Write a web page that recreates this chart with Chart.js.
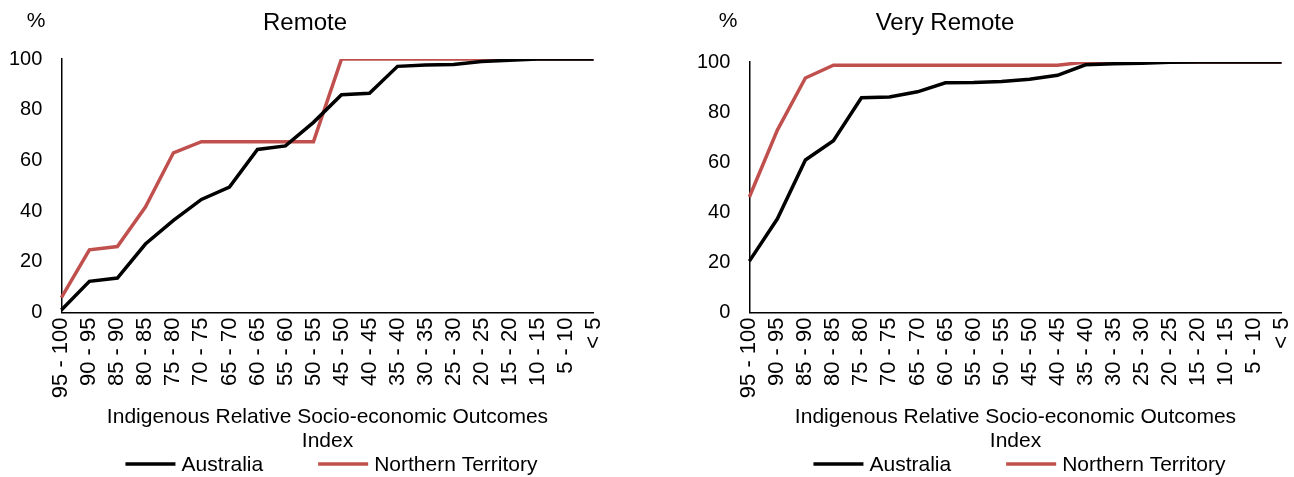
<!DOCTYPE html>
<html>
<head>
<meta charset="utf-8">
<script src="https://cdn.jsdelivr.net/npm/chart.js@4.4.0/dist/chart.umd.min.js"></script>
<style>
  html, body { margin: 0; background: #fff; overflow: hidden; }
  #wrap { position: relative; width: 1294px; height: 477px; overflow: hidden; }
  canvas { position: absolute; top: 0; }
  #remoteChart { left: 0; }
  #veryRemoteChart { left: 688px; }
</style>
</head>
<body>
<div id="wrap">
  <canvas id="remoteChart" width="625" height="477"></canvas>
  <canvas id="veryRemoteChart" width="625" height="477"></canvas>
</div>
<script>
// categories (IRSEO index bands)
var categories = ['95 - 100', '90 - 95', '85 - 90', '80 - 85', '75 - 80', '70 - 75', '65 - 70',
  '60 - 65', '55 - 60', '50 - 55', '45 - 50', '40 - 45', '35 - 40', '30 - 35', '25 - 30',
  '20 - 25', '15 - 20', '10 - 15', '5 - 10', '< 5'];

// cumulative % - Remote
var remoteAustralia = [1, 12.3, 13.6, 27, 36.3, 44.6, 49.5, 64.3, 65.7, 75,
  85.9, 86.5, 97.1, 97.6, 97.8, 99, 99.5, 100, 100, 100];
var remoteNT = [5.9, 24.7, 26, 41.6, 63, 67.4, 67.4, 67.4, 67.4, 67.4,
  100, 100, 100, 100, 100, 100, 100, 100, 100, 100];

// cumulative % - Very Remote
var veryRemoteAustralia = [20.5, 37.4, 60.9, 68.6, 85.7, 86, 88.1, 91.7, 91.8, 92.2,
  93.1, 94.7, 98.9, 99.3, 99.5, 99.9, 100, 100, 100, 100];
var veryRemoteNT = [46.1, 72.8, 93.6, 98.7, 98.7, 98.7, 98.7, 98.7, 98.7, 98.7,
  98.7, 98.7, 100, 100, 100, 100, 100, 100, 100, 100];

var yTicks = [0, 20, 40, 60, 80, 100];
var seriesNames = ['Australia', 'Northern Territory'];
var seriesColors = ['#000000', '#C0504D'];

var FONT = '"Liberation Sans", Arial, sans-serif';
Chart.defaults.font.family = FONT;
Chart.defaults.color = '#000';

// title + "%" unit label drawn above the plot
var headText = {
  id: 'headText',
  afterDraw: function (chart, args, opts) {
    var ctx = chart.ctx;
    ctx.save();
    ctx.fillStyle = '#000';
    ctx.textAlign = 'center';
    ctx.textBaseline = 'alphabetic';
    ctx.font = '24px ' + FONT;
    ctx.fillText(opts.title, opts.titleX, 30);
    ctx.font = '21px ' + FONT;
    ctx.fillText('%', opts.unitX, 27);
    ctx.restore();
  }
};

// legend row under the axis title (Excel style: wide gap between entries)
var bottomLegend = {
  id: 'bottomLegend',
  afterDraw: function (chart, args, opts) {
    var ctx = chart.ctx;
    var sets = chart.data.datasets;
    ctx.save();
    ctx.font = opts.fontSize + 'px ' + FONT;
    var widths = sets.map(function (d) {
      return opts.lineLength + opts.textGap + ctx.measureText(d.label).width;
    });
    var total = widths.reduce(function (a, b) { return a + b; }, 0) + opts.itemGap * (sets.length - 1);
    var x = (chart.chartArea.left + chart.chartArea.right) / 2 - total / 2 + opts.shift;
    var y = chart.height - opts.bottom;
    ctx.textAlign = 'left';
    ctx.textBaseline = 'middle';
    sets.forEach(function (d, i) {
      ctx.strokeStyle = d.borderColor;
      ctx.lineWidth = d.borderWidth;
      ctx.beginPath();
      ctx.moveTo(x, y);
      ctx.lineTo(x + opts.lineLength, y);
      ctx.stroke();
      ctx.fillStyle = '#000';
      ctx.fillText(d.label, x + opts.lineLength + opts.textGap, y + 1);
      x += widths[i] + opts.itemGap;
    });
    ctx.restore();
  }
};

function makeChart(id, title, titleX, unitX, top, australia, nt) {
  var ctx = document.getElementById(id).getContext('2d');
  return new Chart(ctx, {
    type: 'line',
    data: {
      labels: categories,
      datasets: [
        { label: seriesNames[0], data: australia, borderColor: seriesColors[0], backgroundColor: seriesColors[0],
          borderWidth: 3.5, pointRadius: 0, tension: 0, fill: false },
        { label: seriesNames[1], data: nt, borderColor: seriesColors[1], backgroundColor: seriesColors[1],
          borderWidth: 3.5, pointRadius: 0, tension: 0, fill: false }
      ]
    },
    options: {
      responsive: false,
      animation: false,
      layout: { padding: { left: 9, right: 0, top: top, bottom: 23.5 } },
      plugins: {
        headText: { title: title, titleX: titleX, unitX: unitX },
        bottomLegend: { fontSize: 21, lineLength: 50, textGap: 6, itemGap: 55, shift: 4, bottom: 13 },
        tooltip: { enabled: false },
        legend: { display: false }
      },
      scales: {
        x: {
          grid: { display: false, drawTicks: false },
          border: { display: true, color: '#000', width: 1.5 },
          ticks: { autoSkip: false, minRotation: 90, maxRotation: 90, padding: 5, color: '#000', font: { size: 22 } },
          title: {
            display: true,
            text: ['Indigenous Relative Socio-economic Outcomes', 'Index'],
            color: '#000',
            font: { size: 21, lineHeight: 1.15 },
            padding: { top: 2, bottom: 0 }
          }
        },
        y: {
          min: 0,
          max: 100,
          grid: { display: false, drawTicks: false },
          border: { display: true, color: '#000', width: 1.5 },
          afterBuildTicks: function (scale) {
            scale.ticks = yTicks.map(function (v) { return { value: v }; });
          },
          afterFit: function (scale) {
            // Chart.js reserves the tick padding twice; keep it once
            scale.width = scale.width - scale.options.ticks.padding;
          },
          ticks: { padding: 19, color: '#000', font: { size: 20 } }
        }
      }
    },
    plugins: [headText, bottomLegend]
  });
}

makeChart('remoteChart', 'Remote', 305, 36, 59, remoteAustralia, remoteNT);
makeChart('veryRemoteChart', 'Very Remote', 257, 40, 62, veryRemoteAustralia, veryRemoteNT);
</script>
</body>
</html>
